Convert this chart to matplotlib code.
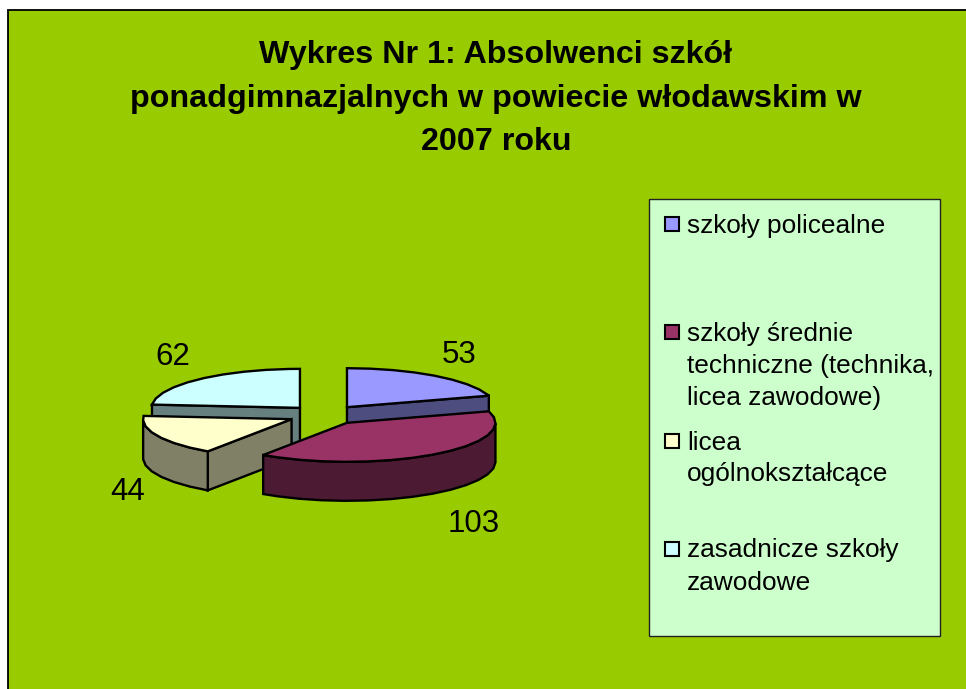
import numpy as np
import matplotlib
matplotlib.use("Agg")
import matplotlib.pyplot as plt
from matplotlib.patches import Polygon, Rectangle

plt.rcParams['font.family'] = ['Liberation Sans', 'DejaVu Sans']

# dane
title_lines = ["Wykres Nr 1: Absolwenci szkół",
               "ponadgimnazjalnych w powiecie włodawskim w",
               "2007 roku"]
categories = ["szkoły policealne",
              "szkoły średnie\ntechniczne (technika,\nlicea zawodowe)",
              "licea\nogólnokształcące",
              "zasadnicze szkoły\nzawodowe"]
values = [53, 103, 44, 62]
top_colors = ["#9999FF", "#993366", "#FFFFCC", "#CCFFFF"]
side_colors = ["#4D4D80", "#4D1A33", "#808066", "#668080"]

# geometria (piksele)
W, H = 966, 689
cx, cy = 325, 415
r, ry = 148.5, 39
depth = 39
explode = 37
label_xy = [(459, 355), (474, 524), (128, 492), (173, 357)]
legend_y = [224, 332, 441, 549]

fig = plt.figure(figsize=(W / 100, H / 100), dpi=100, facecolor="white")
ax = fig.add_axes([0, 0, 1, 1])
ax.set_xlim(0, W)
ax.set_ylim(H, 0)
ax.axis("off")

ax.add_patch(Rectangle((8, 10), W + 20, H + 20, fc="#99CC00", ec="black", lw=1.3, zorder=0))


def pt(x0, y0, t):
    return x0 + r * np.sin(t), y0 - ry * np.cos(t)


def face(pts, color, z):
    ax.add_patch(Polygon(pts, closed=True, fc=color, ec="black", lw=1.7, joinstyle="miter", zorder=z))


edges = np.radians(np.cumsum([0] + values) / sum(values) * 360)
mids = (edges[:-1] + edges[1:]) / 2
# od tylu do przodu
order = sorted(range(len(values)), key=lambda i: -np.cos(mids[i]))

for z, i in enumerate(order):
    a, b = edges[i], edges[i + 1]
    x0 = cx + explode * np.sin(mids[i])
    y0 = cy - explode * ry / r * np.cos(mids[i])
    ts = np.append(np.arange(a, b, np.radians(9)), b)
    arc = [pt(x0, y0, t) for t in ts]
    base = 10 + z * 10

    # sciany ciecia
    if np.sin(a) < -1e-6:
        xa, ya = pt(x0, y0, a)
        face([(x0, y0), (xa, ya), (xa, ya + depth), (x0, y0 + depth)], side_colors[i], base)
    if np.sin(b) > 1e-6:
        xb, yb = pt(x0, y0, b)
        face([(x0, y0), (xb, yb), (xb, yb + depth), (x0, y0 + depth)], side_colors[i], base)

    # sciana zewnetrzna, tylko przod
    front = [t for t in ts if -np.cos(t) >= -0.02]
    if front:
        upper = [pt(x0, y0, t) for t in front]
        lower = [(x, y + depth) for x, y in upper][::-1]
        face(upper + lower, side_colors[i], base + 1)

    face([(x0, y0)] + arc, top_colors[i], base + 2)

for v, (x, y) in zip(values, label_xy):
    ax.text(x, y, str(v), fontsize=22.5, ha="center", va="center", color="black", zorder=80)

for line, y in zip(title_lines, [55, 99, 142]):
    ax.text(496, y, line, fontsize=23.2, fontweight="bold", ha="center", va="center", zorder=80)

# legenda
ax.add_patch(Rectangle((649, 199), 291, 437, fc="#CCFFCC", ec="#222222", lw=1, zorder=70))
for name, col, y in zip(categories, top_colors, legend_y):
    ax.add_patch(Rectangle((665, y - 7), 14, 14, fc=col, ec="black", lw=1.5, zorder=75))
    for k, part in enumerate(name.split("\n")):
        ax.text(687, y + 1.5 + k * 32, part, fontsize=18.9, ha="left", va="center", zorder=80)

fig.savefig("out.png", dpi=100)
